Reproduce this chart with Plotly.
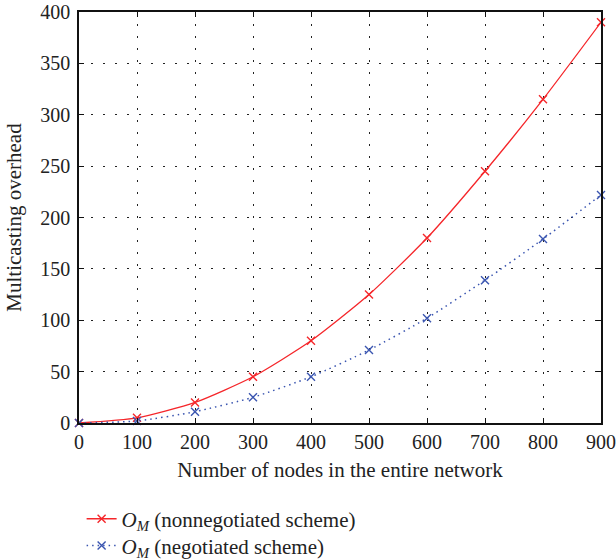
import plotly.graph_objects as go

nodes = [0, 100, 200, 300, 400, 500, 600, 700, 800, 900]
nonnegotiated = [0, 5, 20, 45, 80, 125, 180, 245, 315, 390]
negotiated = [0, 2, 11, 25, 45, 71, 102, 139, 179, 222]

x_ticks = [0, 100, 200, 300, 400, 500, 600, 700, 800, 900]
y_ticks = [0, 50, 100, 150, 200, 250, 300, 350, 400]

font = "Liberation Serif, Times New Roman, serif"
red = "#f5262a"
blue = "#3a55b0"

fig = go.Figure()
fig.add_trace(go.Scatter(
    x=nodes, y=nonnegotiated, mode="lines+markers",
    name="<i>O</i><sub><i>M</i></sub> (nonnegotiated scheme)",
    line=dict(color=red, width=1.3, shape="spline", smoothing=0.6),
    marker=dict(symbol="x-thin", size=8, color=red, line=dict(width=1.4, color=red)),
    legend="legend", cliponaxis=False,
))
fig.add_trace(go.Scatter(
    x=nodes, y=negotiated, mode="lines+markers",
    name="<i>O</i><sub><i>M</i></sub> (negotiated scheme)",
    line=dict(color=blue, width=1.5, dash="1.5px,4px", shape="spline", smoothing=0.6),
    marker=dict(symbol="x-thin", size=8, color=blue, line=dict(width=1.4, color=blue)),
    legend="legend2", cliponaxis=False,
))

axis_common = dict(
    showline=True, linecolor="#111", linewidth=1.5, mirror="ticks",
    ticks="inside", ticklen=5, tickcolor="#111", tickwidth=1.2,
    showgrid=True, gridcolor="#222", griddash="1.5px,10.5px", gridwidth=1,
    zeroline=False, automargin=False,
    tickfont=dict(family=font, size=20, color="#222"),
)

legend_common = dict(
    xanchor="left", yanchor="top",
    font=dict(family=font, size=21, color="#222"),
    bgcolor="rgba(0,0,0,0)",
)

fig.update_layout(
    width=616, height=560,
    margin=dict(l=79, r=15, t=12, b=137, autoexpand=False),
    plot_bgcolor="white", paper_bgcolor="white",
    font=dict(family=font, size=20, color="#222"),
    xaxis=dict(range=[0, 900], tickvals=x_ticks,
               title=dict(text="Number of nodes in the entire network", standoff=11, font=dict(size=21)),
               **axis_common),
    yaxis=dict(range=[0, 400], tickvals=y_ticks, ticklabelstandoff=3,
               title=dict(text="Multicasting overhead", standoff=13, font=dict(size=21)),
               **axis_common),
    legend=dict(x=0.005, y=-0.184, **legend_common),
    legend2=dict(x=0.005, y=-0.249, **legend_common),
    showlegend=True,
)

fig.write_html("out.html", config={"displayModeBar": False},
               post_script="document.body.style.margin='0';")
